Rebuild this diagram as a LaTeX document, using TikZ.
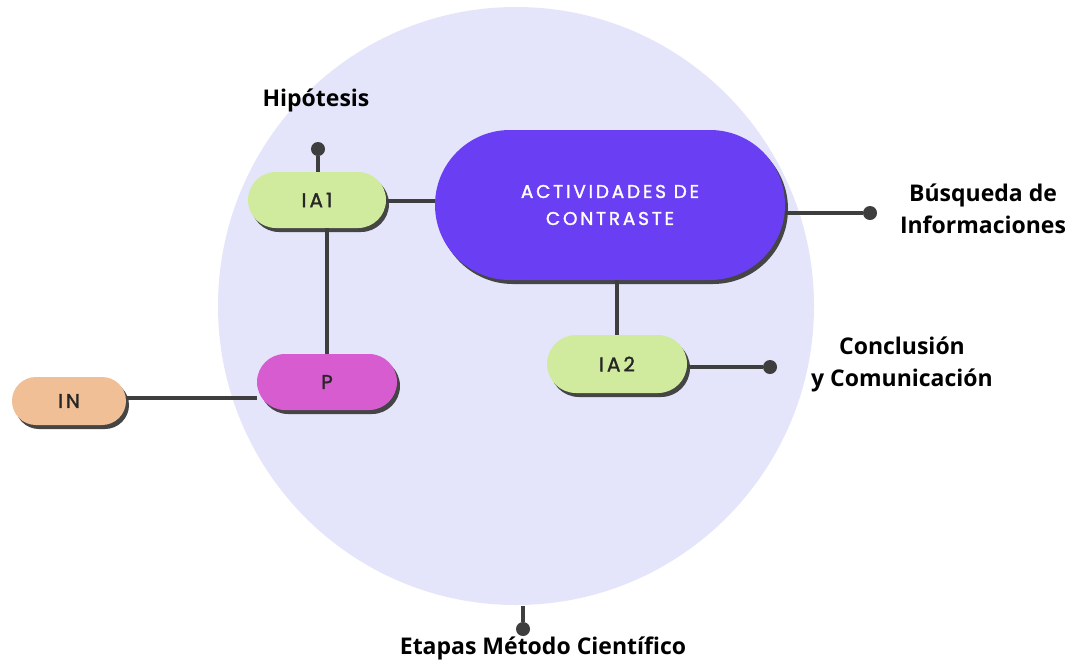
\documentclass[tikz,border=0pt]{standalone}
\usepackage{fontspec}
\setmainfont{Open Sans}
\newfontfamily\lab{Open Sans}
\newfontfamily\pop[LetterSpace=15,FakeBold=1.5]{Poppins}
\usetikzlibrary{shapes.misc,shadows}
\definecolor{bgcirc}{HTML}{E4E4FA}
\definecolor{pillgreen}{HTML}{D0EB9E}
\definecolor{pillpurple}{HTML}{6A3FF3}
\definecolor{pillmag}{HTML}{D65CCF}
\definecolor{pillpeach}{HTML}{F0BF95}
\definecolor{shadowc}{HTML}{454545}
\definecolor{linec}{HTML}{3E3E3E}
\definecolor{txtc}{HTML}{262626}
\tikzset{
  pill/.style={rounded rectangle, draw=none, inner sep=0pt,
    general shadow={shadow xshift=3pt, shadow yshift=-4pt, fill=shadowc},
    font=\pop\fontsize{20}{24}\selectfont, text=txtc},
  conn/.style={draw=linec, line width=3.5pt},
  dotc/.style={circle, fill=linec, inner sep=0pt, minimum size=14pt},
  lbl/.style={font=\lab\bfseries\fontsize{23}{32}\selectfont, text=black, align=center},
}
\begin{document}
\begin{tikzpicture}[x=1pt,y=-1pt]
\useasboundingbox (0,0) rectangle (1071,665);
\fill[white] (0,0) rectangle (1071,665);
\fill[bgcirc] (516,306) ellipse [x radius=298, y radius=299];

\node[pill, fill=pillpurple, minimum width=350pt, minimum height=150pt, text=white, align=center,
  font=\pop\fontsize{18.5}{27}\selectfont] (act) at (610,205) {ACTIVIDADES DE\\CONTRASTE};
\node[pill, fill=pillgreen, minimum width=138pt, minimum height=56pt] (ia1) at (317,200) {IA1};
\node[pill, fill=pillmag, minimum width=140pt, minimum height=56pt] (p) at (327,382) {P};
\node[pill, fill=pillpeach, minimum width=114pt, minimum height=48pt] (in) at (69,401) {IN};
\node[pill, fill=pillgreen, minimum width=140pt, minimum height=58pt] (ia2) at (617,364) {IA2};

\node[dotc] (d1) at (318,149) {};
\node[dotc] (d2) at (870,213) {};
\node[dotc] (d3) at (770,367) {};
\node[dotc] (d4) at (523,629) {};
\coordinate (cb) at (523,606);

\draw[conn] (d1) -- (d1 |- ia1.north);
\draw[conn] (ia1.east |- 0,201) -- (act.west |- 0,201);
\draw[conn] (p.north) -- (p.north |- ia1.south);
\draw[conn] (in.east |- 0,398) -- (p.west |- 0,398);
\draw[conn] (ia2.north) -- (ia2.north |- act.south);
\draw[conn] (act.east |- d2) -- (d2);
\draw[conn] (ia2.east |- d3) -- (d3);
\draw[conn] (cb) -- (d4);

\node[lbl] (hip) at (316,100) {Hipótesis};
\node[lbl] (bus) at (983,209) {Búsqueda de\\Informaciones};
\node[lbl] (con) at (902,364) {Conclusión\\y Comunicación};
\node[lbl] (eta) at (543,648) {Etapas Método Científico};
\end{tikzpicture}
\end{document}
